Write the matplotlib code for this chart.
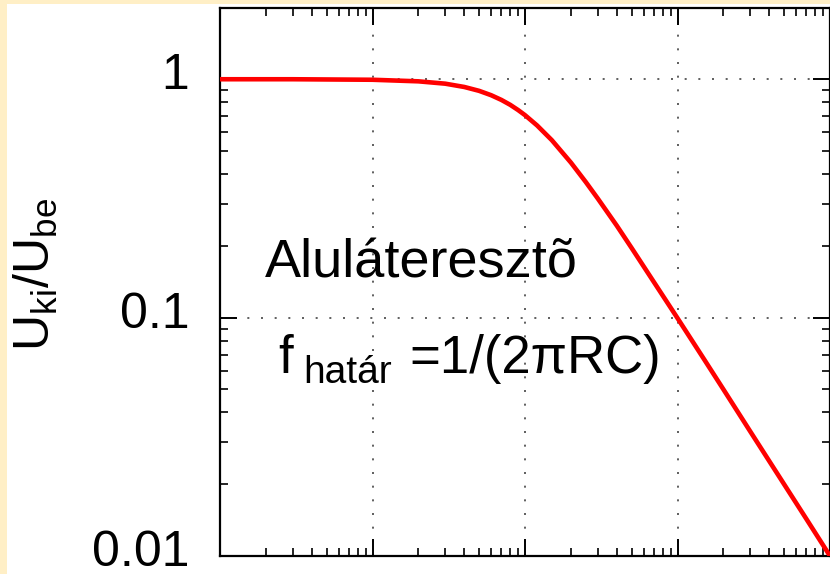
import matplotlib
matplotlib.use("Agg")
import matplotlib.pyplot as plt
import matplotlib.transforms as mtransforms
from matplotlib.patches import Rectangle
from matplotlib.ticker import LogLocator, NullFormatter, FixedLocator, FixedFormatter

# frekvencia a határfrekvenciához viszonyítva (f / f_határ)
freq_ratio = [0.01, 0.03, 0.1, 0.2, 0.3, 0.4, 0.5, 0.6, 0.7, 0.8, 0.9, 1.0,
              1.2, 1.5, 2.0, 2.5, 3.0, 4.0, 5.0, 7.0, 10.0, 15.0, 20.0,
              30.0, 50.0, 70.0, 100.0]
# U_ki / U_be
gain = [1.0, 1.0, 0.995, 0.98, 0.958, 0.928, 0.894, 0.857, 0.819, 0.781,
        0.743, 0.707, 0.640, 0.555, 0.447, 0.371, 0.316, 0.243, 0.196,
        0.141, 0.0995, 0.0666, 0.05, 0.0333, 0.02, 0.0143, 0.01]

ytick_vals = [0.01, 0.1, 1]
ytick_labels = ["0.01", "0.1", "1"]

plt.rcParams['font.family'] = ['Liberation Sans', 'DejaVu Sans']
plt.rcParams['mathtext.fontset'] = 'custom'
plt.rcParams['mathtext.rm'] = 'Liberation Sans'
plt.rcParams['mathtext.it'] = 'Liberation Sans:italic'

fig = plt.figure(figsize=(8.3, 5.74), dpi=100)
fig.patch.set_facecolor('white')
# sárga keret a bal és felső szélen
yellow = '#FFEFC6'
fig.patches.append(Rectangle((0, 0), 7 / 830, 1, transform=fig.transFigure,
                             facecolor=yellow, edgecolor='none', zorder=0))
fig.patches.append(Rectangle((0, 1 - 4 / 574), 1, 4 / 574, transform=fig.transFigure,
                             facecolor=yellow, edgecolor='none', zorder=0))

ax = fig.add_axes([220 / 830, 18 / 574, 610 / 830, 548 / 574])
ax.set_xscale('log')
ax.set_yscale('log')
ax.plot(freq_ratio, gain, color='red', linewidth=3.3, solid_capstyle='butt', zorder=3)

ax.set_xlim(0.01, 100)
ax.set_ylim(0.01, 1.99)

ax.xaxis.set_major_locator(FixedLocator([0.01, 0.1, 1, 10, 100]))
ax.xaxis.set_minor_locator(LogLocator(base=10, subs=range(2, 10), numticks=20))
ax.xaxis.set_major_formatter(NullFormatter())
ax.xaxis.set_minor_formatter(NullFormatter())
ax.yaxis.set_major_locator(FixedLocator(ytick_vals))
ax.yaxis.set_major_formatter(FixedFormatter(ytick_labels))
ax.yaxis.set_minor_locator(LogLocator(base=10, subs=range(2, 10), numticks=20))
ax.yaxis.set_minor_formatter(NullFormatter())

ax.tick_params(which='both', direction='in', top=True, right=True, colors='black')
ax.tick_params(which='major', length=12, width=1.4, labelsize=36, pad=22)
ax.tick_params(which='minor', length=6, width=1.2)
for sp in ax.spines.values():
    sp.set_linewidth(1.6)

# a tengelyfeliratok kicsit feljebb ülnek
shift = mtransforms.ScaledTranslation(0, 3 / 100, fig.dpi_scale_trans)
for lbl in ax.get_yticklabels():
    lbl.set_verticalalignment('center')
    lbl.set_transform(lbl.get_transform() + shift)

ax.grid(True, which='major', color='#444444', linestyle=(0, (1.2, 7)), linewidth=1.2)

# feliratok
ax.text(0.074, 0.509, "Aluláteresztõ", transform=ax.transAxes, fontsize=39,
        ha='left', va='baseline')
ax.text(0.095, 0.334, "f", transform=ax.transAxes, fontsize=38,
        ha='left', va='baseline')
ax.text(0.136, 0.316, "határ", transform=ax.transAxes, fontsize=28,
        ha='left', va='baseline')
ax.text(0.311, 0.334, "=1/(2πRC)", transform=ax.transAxes, fontsize=38,
        ha='left', va='baseline')

fig.text(36 / 830, 1 - 274 / 574, r"U$_{\mathrm{ki}}$/U$_{\mathrm{be}}$",
         rotation=90, fontsize=36, ha='center', va='center')

fig.savefig("out.png", dpi=100, facecolor=fig.get_facecolor())
